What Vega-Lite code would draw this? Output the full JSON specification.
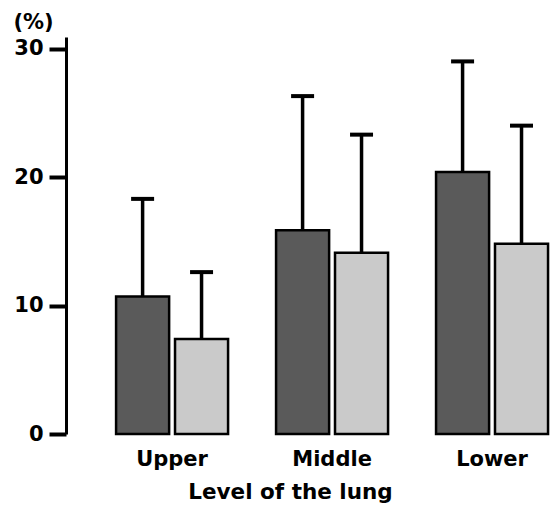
{
  "$schema": "https://vega.github.io/schema/vega-lite/v6.json",
  "width": 487,
  "height": 397,
  "autosize": {"type": "none"},
  "padding": {"left": 66, "top": 37, "right": 0, "bottom": 74},
  "background": "white",
  "config": {
    "view": {"stroke": null},
    "font": "DejaVu Sans"
  },
  "data": {
    "values": [
      {"level": "Upper", "group": "A", "value": 10.7, "upper": 18.3},
      {"level": "Upper", "group": "B", "value": 7.4, "upper": 12.6},
      {"level": "Middle", "group": "A", "value": 15.85, "upper": 26.3},
      {"level": "Middle", "group": "B", "value": 14.1, "upper": 23.3},
      {"level": "Lower", "group": "A", "value": 20.4, "upper": 29.0},
      {"level": "Lower", "group": "B", "value": 14.8, "upper": 24.0}
    ]
  },
  "encoding": {
    "x": {
      "field": "level",
      "type": "nominal",
      "sort": ["Upper", "Middle", "Lower"],
      "scale": {"paddingInner": 0.3, "paddingOuter": 0.172, "align": 0.91},
      "axis": {
        "title": "Level of the lung",
        "labelAngle": 0,
        "domain": false,
        "ticks": false,
        "labelFont": "DejaVu Sans",
        "labelFontWeight": "bold",
        "labelFontSize": 21,
        "labelColor": "black",
        "labelBaseline": "alphabetic",
        "labelPadding": 31,
        "titleFont": "DejaVu Sans",
        "titleFontWeight": "bold",
        "titleFontSize": 21.5,
        "titleColor": "black",
        "titleX": 224,
        "titleY": 64,
        "titleAlign": "center",
        "titleBaseline": "alphabetic"
      }
    },
    "xOffset": {
      "field": "group",
      "type": "nominal",
      "scale": {"paddingInner": 0.1, "paddingOuter": 0}
    }
  },
  "layer": [
    {
      "mark": {"type": "rule", "color": "black", "strokeWidth": 3.5},
      "encoding": {
        "y": {"field": "value", "type": "quantitative"},
        "y2": {"field": "upper"}
      }
    },
    {
      "mark": {"type": "tick", "color": "black", "opacity": 1, "size": 23, "thickness": 4},
      "encoding": {
        "y": {"field": "upper", "type": "quantitative"}
      }
    },
    {
      "mark": {"type": "bar", "stroke": "black", "strokeWidth": 2.5},
      "encoding": {
        "y": {
          "field": "value",
          "type": "quantitative",
          "scale": {"domain": [0, 30.9], "nice": false},
          "axis": {
            "title": "(%)",
            "values": [0, 10, 20, 30],
            "grid": false,
            "domainColor": "black",
            "domainWidth": 3,
            "tickColor": "black",
            "tickWidth": 4,
            "tickSize": 17,
            "labelPadding": 6,
            "labelFont": "DejaVu Sans",
            "labelFontWeight": "bold",
            "labelFontSize": 21,
            "labelColor": "black",
            "titleAngle": 0,
            "titleFont": "DejaVu Sans",
            "titleFontWeight": "bold",
            "titleFontSize": 21,
            "titleColor": "black",
            "titleX": -33,
            "titleY": -9,
            "titleAlign": "center",
            "titleBaseline": "alphabetic"
          }
        },
        "fill": {
          "field": "group",
          "type": "nominal",
          "scale": {"domain": ["A", "B"], "range": ["#5a5a5a", "#cacaca"]},
          "legend": null
        }
      }
    }
  ]
}
